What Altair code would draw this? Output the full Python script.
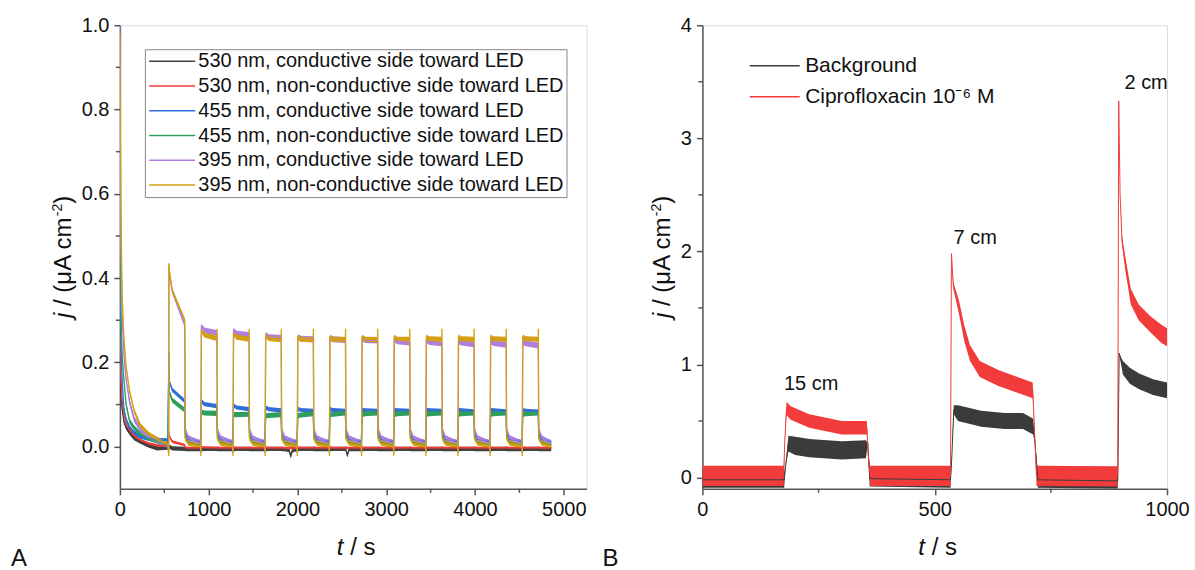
import altair as alt
import pandas as pd

FONT = "Liberation Sans"
INK = "#111111"
AXIS_GREY = "#555555"

# ---------------- Panel A: photocurrent under chopped LED light ----------------
NAMES_A = [
    "530 nm, conductive side toward LED",
    "530 nm, non-conductive side toward LED",
    "455 nm, conductive side toward LED",
    "455 nm, non-conductive side toward LED",
    "395 nm, conductive side toward LED",
    "395 nm, non-conductive side toward LED",
]
COLORS_A = ["#404040", "#f23a3a", "#2f6fd8", "#2f9e5f", "#b07ee0", "#d4a010"]
NOISE_A = [0.005, 0.003, 0.005, 0.006, 0.007, 0.006]

# light on / light off instants (s)
RISE_T = [550, 912, 1274, 1636, 1998, 2360, 2722, 3084, 3446, 3808, 4170, 4532]
FALL_T = [732, 1094, 1456, 1818, 2180, 2542, 2904, 3266, 3628, 3990, 4352, 4714]
END_T = 4860

# initial dark decay
INIT_T = [0, 5, 12, 25, 45, 70, 110, 160, 230, 320, 420, 540]

BLK_INIT = [0.22, 0.16, 0.12, 0.09, 0.06, 0.045, 0.033, 0.02, 0.012, 0.003, -0.004, -0.002]
BLK_ON_START = [0.0, -0.006, -0.006, -0.006, -0.006, -0.006, -0.006, -0.006, -0.006, -0.006, -0.006, -0.006]
BLK_ON_KNEE = [-0.004, -0.005, -0.005, -0.005, -0.005, -0.005, -0.005, -0.005, -0.005, -0.005, -0.005, -0.005]
BLK_ON_END = [-0.005, -0.005, -0.005, -0.005, -0.005, -0.005, -0.005, -0.005, -0.005, -0.005, -0.005, -0.005]
BLK_OFF = [-0.006, -0.006, -0.006]
BLK_DIP_T = [1905, 1925, 1945, 2548, 2562, 2580]
BLK_DIP_J = [-0.008, -0.022, -0.008, -0.01, -0.02, -0.008]

RED_INIT = [0.30, 0.22, 0.16, 0.11, 0.075, 0.055, 0.04, 0.026, 0.016, 0.008, 0.003, 0.002]
RED_ON_START = [0.025, -0.001, -0.002, -0.002, -0.002, -0.002, -0.002, -0.002, -0.002, -0.002, -0.002, -0.002]
RED_ON_KNEE = [0.012, -0.002, -0.003, -0.003, -0.003, -0.003, -0.003, -0.003, -0.003, -0.003, -0.003, -0.003]
RED_ON_END = [0.004, -0.003, -0.003, -0.003, -0.003, -0.003, -0.003, -0.003, -0.003, -0.003, -0.003, -0.003]
RED_OFF = [-0.002, -0.003, -0.003]

BLU_INIT = [0.45, 0.33, 0.24, 0.16, 0.09, 0.065, 0.045, 0.033, 0.024, 0.019, 0.016, 0.015]
BLU_ON_START = [0.155, 0.108, 0.098, 0.093, 0.09, 0.089, 0.088, 0.088, 0.088, 0.088, 0.087, 0.087]
BLU_ON_KNEE = [0.135, 0.101, 0.093, 0.089, 0.087, 0.087, 0.086, 0.086, 0.086, 0.086, 0.086, 0.085]
BLU_ON_END = [0.108, 0.096, 0.089, 0.086, 0.085, 0.085, 0.085, 0.085, 0.085, 0.084, 0.084, 0.083]
BLU_OFF = [0.032, 0.018, 0.011]

GRN_INIT = [0.55, 0.42, 0.32, 0.22, 0.16, 0.10, 0.06, 0.045, 0.03, 0.02, 0.013, 0.003]
GRN_ON_START = [0.13, 0.082, 0.076, 0.073, 0.073, 0.075, 0.076, 0.076, 0.077, 0.077, 0.077, 0.077]
GRN_ON_KNEE = [0.11, 0.08, 0.076, 0.074, 0.075, 0.077, 0.078, 0.078, 0.078, 0.078, 0.078, 0.078]
GRN_ON_END = [0.087, 0.079, 0.077, 0.076, 0.078, 0.08, 0.08, 0.08, 0.08, 0.08, 0.08, 0.08]
GRN_OFF = [0.022, 0.01, 0.003]

PUR_INIT = [1.0, 0.72, 0.48, 0.32, 0.22, 0.16, 0.105, 0.065, 0.042, 0.026, 0.016, 0.004]
PUR_ON_START = [0.41, 0.285, 0.275, 0.265, 0.26, 0.258, 0.258, 0.255, 0.253, 0.25, 0.25, 0.248]
PUR_ON_KNEE = [0.37, 0.276, 0.268, 0.26, 0.256, 0.255, 0.253, 0.25, 0.248, 0.247, 0.246, 0.245]
PUR_ON_END = [0.29, 0.27, 0.265, 0.258, 0.255, 0.253, 0.252, 0.247, 0.245, 0.243, 0.242, 0.24]
PUR_OFF = [0.04, 0.02, 0.007]

GLD_INIT = [0.98, 0.78, 0.55, 0.36, 0.26, 0.19, 0.13, 0.085, 0.05, 0.03, 0.017, 0.006]
GLD_ON_START = [0.42, 0.275, 0.268, 0.264, 0.26, 0.26, 0.26, 0.26, 0.26, 0.26, 0.26, 0.26]
GLD_ON_KNEE = [0.37, 0.265, 0.26, 0.257, 0.255, 0.255, 0.255, 0.255, 0.256, 0.256, 0.256, 0.256]
GLD_ON_END = [0.30, 0.257, 0.255, 0.254, 0.253, 0.254, 0.254, 0.255, 0.255, 0.255, 0.255, 0.255]
GLD_OFF = [0.02, 0.008, 0.002]

# switching transients: [dip at light on, first-pulse peak, overshoot at light off]
SPIKES = {
    NAMES_A[0]: [None, None, None],
    NAMES_A[1]: [None, 0.035, None],
    NAMES_A[2]: [None, 0.225, None],
    NAMES_A[3]: [None, 0.2, None],
    NAMES_A[4]: [-0.015, 0.43, None],
    NAMES_A[5]: [-0.022, 0.435, 0.28],
}

MAJOR_X_A = [0, 1000, 2000, 3000, 4000, 5000]
MINOR_X_A = [500, 1500, 2500, 3500, 4500]
MAJOR_Y_A = [0, 0.2, 0.4, 0.6, 0.8, 1.0]
MINOR_Y_A = [0.1, 0.3, 0.5, 0.7, 0.9]

# ---------------- Panel B: background vs ciprofloxacin, LED distance ----------------
NAMES_B = ["Background", "Ciprofloxacin 10\u207b\u2076 M"]
COLORS_B = ["#3b3b3b", "#f23c3c"]

BG_T = [0, 176, 179, 185, 200, 230, 300, 352, 356, 360, 534, 537, 541, 550, 600, 650, 690,
        712, 716, 722, 894, 897, 905, 920, 940, 970, 1000]
BG_MID = [-0.02, -0.02, 0.1, 0.3, 0.28, 0.26, 0.24, 0.25, 0.3, -0.01, -0.02, 0.2, 0.6, 0.57,
          0.52, 0.5, 0.5, 0.45, 0.3, -0.02, -0.03, 1.1, 0.97, 0.9, 0.85, 0.8, 0.77]
BG_HALF = [0.07, 0.07, 0.0, 0.07, 0.08, 0.08, 0.08, 0.08, 0.0, 0.07, 0.07, 0.0, 0.04, 0.07,
           0.07, 0.07, 0.07, 0.07, 0.0, 0.07, 0.07, 0.0, 0.06, 0.07, 0.07, 0.07, 0.07]

CIP_T = [0, 175, 177, 181, 190, 230, 300, 354, 357, 361, 534, 536, 540, 552, 564, 576, 597,
         637, 678, 711, 715, 719, 894, 896, 899, 903, 910, 922, 939, 963, 988, 1000]
CIP_MID = [0.015, 0.015, 0.3, 0.61, 0.57, 0.5, 0.44, 0.44, 0.2, 0.015, 0.015, 1.98, 1.7, 1.51,
           1.27, 1.1, 0.96, 0.88, 0.82, 0.77, 0.4, 0.015, 0.01, 3.33, 2.5, 2.1, 1.9, 1.6,
           1.46, 1.36, 1.27, 1.24]
CIP_HALF = [0.09, 0.09, 0.0, 0.06, 0.06, 0.06, 0.06, 0.06, 0.0, 0.09, 0.09, 0.0, 0.03, 0.06,
            0.07, 0.07, 0.07, 0.07, 0.07, 0.07, 0.0, 0.09, 0.09, 0.0, 0.0, 0.04, 0.06, 0.07,
            0.07, 0.07, 0.08, 0.08]

ANNOT_TEXT = ["15 cm", "7 cm", "2 cm"]
ANNOT_T = [234, 587, 955]
ANNOT_J = [0.83, 2.12, 3.49]

MAJOR_X_B = [0, 500, 1000]
MINOR_X_B = [250, 750]
MAJOR_Y_B = [0, 1, 2, 3, 4]
MINOR_Y_B = [0.5, 1.5, 2.5, 3.5]

# long flat legend swatch (path in the unit box, stretched to the right)
SWATCH = "M-1,0H5"


def trace_a(init, on_start, on_knee, on_end, off, spikes, extra_t=(), extra_j=()):
    dip, first_peak, fall_peak = spikes
    pts = list(zip(INIT_T, init))
    for k, (r, f) in enumerate(zip(RISE_T, FALL_T)):
        nxt = RISE_T[k + 1] if k + 1 < len(RISE_T) else END_T
        if dip is not None:
            pts.append((r, dip))
        if k == 0 and first_peak is not None:
            pts.append((r + 2, first_peak))
        pts += [(r + 6, on_start[k]), (r + 40, on_knee[k]), (f - 2, on_end[k])]
        if fall_peak is not None:
            pts.append((f, fall_peak))
        pts += [(f + 4, off[0]), (f + 40, off[1]), (nxt - 2, off[2])]
    pts += list(zip(extra_t, extra_j))
    pts.sort()
    return pts


traces_a = [
    trace_a(BLK_INIT, BLK_ON_START, BLK_ON_KNEE, BLK_ON_END, BLK_OFF, SPIKES[NAMES_A[0]], BLK_DIP_T, BLK_DIP_J),
    trace_a(RED_INIT, RED_ON_START, RED_ON_KNEE, RED_ON_END, RED_OFF, SPIKES[NAMES_A[1]]),
    trace_a(BLU_INIT, BLU_ON_START, BLU_ON_KNEE, BLU_ON_END, BLU_OFF, SPIKES[NAMES_A[2]]),
    trace_a(GRN_INIT, GRN_ON_START, GRN_ON_KNEE, GRN_ON_END, GRN_OFF, SPIKES[NAMES_A[3]]),
    trace_a(PUR_INIT, PUR_ON_START, PUR_ON_KNEE, PUR_ON_END, PUR_OFF, SPIKES[NAMES_A[4]]),
    trace_a(GLD_INIT, GLD_ON_START, GLD_ON_KNEE, GLD_ON_END, GLD_OFF, SPIKES[NAMES_A[5]]),
]

rows_a = []
for name, noise, pts in zip(NAMES_A, NOISE_A, traces_a):
    for t, j in pts:
        rows_a.append({"t": t, "j": j, "lo": j - noise, "hi": j + noise, "series": name})
df_a = pd.DataFrame(rows_a)

rows_b = []
for name, ts, mids, halves in [(NAMES_B[0], BG_T, BG_MID, BG_HALF), (NAMES_B[1], CIP_T, CIP_MID, CIP_HALF)]:
    for t, m, h in zip(ts, mids, halves):
        rows_b.append({"t": t, "j": m, "lo": m - h, "hi": m + h, "series": name})
df_b = pd.DataFrame(rows_b)

df_annot = pd.DataFrame({"t": ANNOT_T, "j": ANNOT_J, "label": ANNOT_TEXT})
DUMMY = pd.DataFrame({"_": [0]})


def major_axis(values, fmt):
    return alt.Axis(values=values, format=fmt, title=None, grid=False,
                    tickSize=6, tickWidth=1.5, tickColor=AXIS_GREY, domainColor=AXIS_GREY,
                    domainWidth=1.5, labelFont=FONT, labelFontSize=20, labelColor=INK,
                    labelPadding=5, labelFlush=False, labelOverlap=False)


def minor_ticks(xvals, yvals, xs, ys, xaxis, yaxis, h):
    """Short unlabeled ticks between the major ones, drawn through the panel scales."""
    tx = alt.Chart(pd.DataFrame({"v": xvals})).mark_rule(
        color=AXIS_GREY, strokeWidth=1.5, clip=False
    ).encode(x=alt.X("v:Q", scale=xs, axis=xaxis), y=alt.value(h), y2=alt.value(h + 4))
    ty = alt.Chart(pd.DataFrame({"v": yvals})).mark_rule(
        color=AXIS_GREY, strokeWidth=1.5, clip=False
    ).encode(y=alt.Y("v:Q", scale=ys, axis=yaxis), x=alt.value(0), x2=alt.value(-4))
    return [tx, ty]


def text_piece(text, x, y, size=24, angle=0, style="normal"):
    return alt.Chart(DUMMY).mark_text(
        text=text, font=FONT, fontSize=size, fontStyle=style, angle=angle,
        align="left", baseline="alphabetic", color=INK,
    ).encode(x=alt.value(x), y=alt.value(y))


def titles(w, h, ytitle_x, panel_label, panel_x):
    cx = w / 2 + 3
    cy = h / 2
    y0 = cy + 61
    return [
        text_piece("t", cx - 19.4, h + 66, style="italic"),
        text_piece("/ s", cx - 6.0, h + 66),
        text_piece("j", ytitle_x, y0, angle=270, style="italic"),
        text_piece("/ (\u03bcA cm", ytitle_x, y0 - 12, angle=270),
        text_piece("-2", ytitle_x - 9, y0 - 101.8, size=14, angle=270),
        text_piece(")", ytitle_x, y0 - 114.2, angle=270),
        text_piece(panel_label, panel_x, h + 77),
    ]


# ---- panel A
WA, HA = 467, 464
xs_a = alt.Scale(domain=[0, 5256], nice=False, zero=False)
ys_a = alt.Scale(domain=[-0.1, 1.0], nice=False, zero=False)
cs_a = alt.Scale(domain=NAMES_A, range=COLORS_A)
xax_a = major_axis(MAJOR_X_A, "d")
yax_a = major_axis(MAJOR_Y_A, ".1f")
legend_a = alt.Legend(
    title=None, orient="none", legendX=25, legendY=24, symbolType=SWATCH,
    symbolSize=235, symbolStrokeWidth=1.5, labelFont=FONT, labelFontSize=20,
    labelColor=INK, labelLimit=0, strokeColor="#888888", fillColor="white",
    padding=2, rowPadding=4.8, labelOffset=31.5,
)

band_a = alt.Chart(df_a).mark_area(clip=True).encode(
    x=alt.X("t:Q", scale=xs_a, axis=xax_a),
    y=alt.Y("lo:Q", scale=ys_a, stack=None, axis=yax_a),
    y2="hi:Q",
    color=alt.Color("series:N", scale=cs_a, legend=legend_a),
)
line_a = alt.Chart(df_a).mark_line(clip=True, strokeWidth=1.3).encode(
    x=alt.X("t:Q", scale=xs_a, axis=xax_a),
    y=alt.Y("j:Q", scale=ys_a, axis=yax_a),
    color=alt.Color("series:N", scale=cs_a, legend=legend_a),
)
panel_a = alt.layer(
    band_a, line_a, *minor_ticks(MINOR_X_A, MINOR_Y_A, xs_a, ys_a, xax_a, yax_a, HA),
    *titles(WA, HA, -49, "A", -109)
).properties(width=WA, height=HA)

# ---- panel B
WB, HB = 465, 464
xs_b = alt.Scale(domain=[0, 1000], nice=False, zero=False)
ys_b = alt.Scale(domain=[-0.1, 4.0], nice=False, zero=False)
cs_b = alt.Scale(domain=NAMES_B, range=COLORS_B)
xax_b = major_axis(MAJOR_X_B, "d")
yax_b = major_axis(MAJOR_Y_B, "d")
legend_b = alt.Legend(
    title=None, orient="none", legendX=61.9, legendY=30, symbolType="M-3,0H3",
    symbolSize=278, symbolStrokeWidth=1.5, labelFont=FONT, labelFontSize=21,
    labelColor=INK, labelLimit=0, padding=0, rowPadding=9, labelOffset=19.9,
)

band_b = alt.Chart(df_b).mark_area(clip=True).encode(
    x=alt.X("t:Q", scale=xs_b, axis=xax_b),
    y=alt.Y("lo:Q", scale=ys_b, stack=None, axis=yax_b),
    y2="hi:Q",
    color=alt.Color("series:N", scale=cs_b, legend=legend_b),
)
line_b = alt.Chart(df_b).mark_line(clip=True, strokeWidth=1).encode(
    x=alt.X("t:Q", scale=xs_b, axis=xax_b),
    y=alt.Y("j:Q", scale=ys_b, axis=yax_b),
    color=alt.Color("series:N", scale=cs_b, legend=legend_b),
)
annot_b = alt.Chart(df_annot).mark_text(
    font=FONT, fontSize=20, color=INK, align="center", baseline="middle"
).encode(
    x=alt.X("t:Q", scale=xs_b, axis=xax_b),
    y=alt.Y("j:Q", scale=ys_b, axis=yax_b),
    text="label:N",
)

panel_b = alt.layer(
    band_b, line_b, annot_b, *minor_ticks(MINOR_X_B, MINOR_Y_B, xs_b, ys_b, xax_b, yax_b, HB),
    *titles(WB, HB, -32, "B", -100)
).properties(width=WB, height=HB)

chart = alt.hconcat(panel_a, panel_b, spacing=116, bounds="flush").resolve_scale(
    color="independent"
).resolve_legend(color="independent").properties(
    padding={"left": 10, "top": 14, "right": 5, "bottom": 0}
).configure_view(stroke="#333333", strokeWidth=1).configure(background="white")

chart.save("out.html", embed_options={"renderer": "svg", "actions": False})
